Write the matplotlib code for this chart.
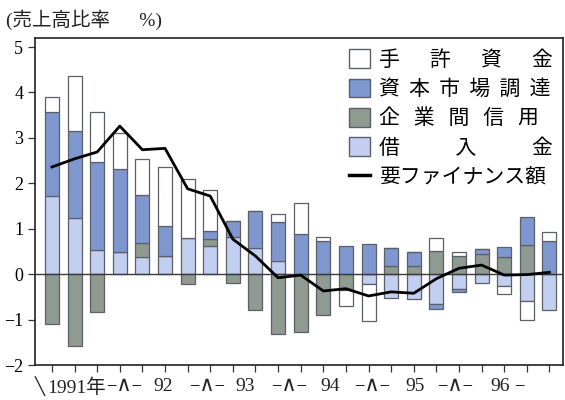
import numpy as np
import matplotlib.pyplot as plt
from matplotlib.patches import Patch
from matplotlib.lines import Line2D
from matplotlib.transforms import blended_transform_factory

JP = ['Noto Sans CJK JP', 'DejaVu Sans']
SERIF = ['Liberation Serif', 'DejaVu Serif', 'Noto Sans CJK JP']
SEP_FONT = ['DejaVu Serif']

# 1991 Q1 .. 1996 Q3 (quarterly), % of sales
own_funds = [0.35, 1.20, 1.12, 0.79, 0.79, 1.30, 1.29, 0.89, 0.00, 0.00, 0.18, 0.67,
             0.08, -0.34, -0.81, 0.00, 0.00, 0.29, 0.09, 0.00, -0.17, -0.41, 0.18]
capital_market = [1.84, 1.92, 1.93, 1.83, 1.05, 0.65, 0.00, 0.18, 0.35, 0.82, 0.86, 0.89,
                  0.73, 0.61, 0.66, 0.40, 0.32, -0.10, -0.06, 0.11, 0.22, 0.60, 0.74]
trade_credit = [-1.09, -1.59, -0.84, 0.00, 0.31, 0.00, -0.22, 0.17, -0.20, -0.80, -1.32, -1.28,
                -0.91, -0.35, 0.00, 0.17, 0.17, 0.51, 0.40, 0.45, 0.38, 0.65, 0.00]
borrowing = [1.72, 1.24, 0.53, 0.48, 0.38, 0.41, 0.80, 0.61, 0.81, 0.57, 0.29, 0.00,
             0.00, 0.00, -0.22, -0.52, -0.55, -0.66, -0.33, -0.19, -0.26, -0.59, -0.78]
financing_need = [2.36, 2.54, 2.69, 3.26, 2.74, 2.77, 1.88, 1.72, 0.77, 0.40, -0.08, -0.02,
                  -0.37, -0.32, -0.48, -0.39, -0.42, -0.10, 0.13, 0.20, -0.02, -0.01, 0.04]

series_labels = ['手　  許　  資　  金', '資  本  市  場  調  達', '企   業   間   信   用', '借　　   入　　   金']
line_label = '要ファイナンス額'

year_labels = ['1991年', '92', '93', '94', '95', '96']
year_label_pos = [1.1, 4.9, 8.55, 12.3, 16.06, 19.8]
sep_pos = [3.2, 6.85, 10.5, 14.15, 17.85]
end_dash_pos = 20.65

colors = {'own': '#ffffff', 'cap': '#7f97cf', 'trade': '#8f9a90', 'borrow': '#c3cff0'}
edge = '#5a5f68'

fig = plt.figure(figsize=(5.65, 4.0), dpi=100)
ax = fig.add_axes([35 / 565, 35 / 400, 528 / 565, 327 / 400])

x = np.arange(len(own_funds))
width = 0.62
pos_base = np.zeros(len(x))
neg_base = np.zeros(len(x))
stack = [(borrowing, colors['borrow']), (trade_credit, colors['trade']),
         (capital_market, colors['cap']), (own_funds, colors['own'])]
for vals, col in stack:
    v = np.array(vals)
    bottom = np.where(v >= 0, pos_base, neg_base)
    ax.bar(x, v, width, bottom=bottom, color=col, edgecolor=edge, linewidth=0.9, zorder=2)
    pos_base += np.where(v > 0, v, 0)
    neg_base += np.where(v < 0, v, 0)

ax.axhline(0, color='#3a3a3a', linewidth=1.0, zorder=3)
ax.plot(x, financing_need, color='black', linewidth=2.0, zorder=4)

ax.set_xlim(-0.75, 22.6)
ax.set_ylim(-2, 5.2)
ax.set_yticks(range(-2, 6))
ax.set_xticks(x)
ax.set_xticklabels([])
ax.tick_params(axis='both', direction='out', length=5, width=0.9, color='#333333')
for lab in ax.get_yticklabels():
    lab.set_family(SERIF)
    lab.set_fontsize(13)
for sp in ax.spines.values():
    sp.set_linewidth(1.2)
    sp.set_color('#222222')

# legend
leg_handles = [Patch(facecolor=colors['own'], edgecolor=edge),
               Patch(facecolor=colors['cap'], edgecolor=edge),
               Patch(facecolor=colors['trade'], edgecolor=edge),
               Patch(facecolor=colors['borrow'], edgecolor=edge),
               Line2D([], [], color='black', linewidth=2.5)]
ax.legend(leg_handles, series_labels + [line_label], loc='upper right',
          bbox_to_anchor=(1.005, 1.005), frameon=False, prop={'family': JP, 'size': 15},
          handlelength=1.0, handleheight=1.0, handletextpad=0.45, labelspacing=0.35,
          borderaxespad=0.2)

# x-axis year labels
trans = blended_transform_factory(ax.transData, ax.transAxes)
ax.text(-0.78, -0.035, '╲', transform=trans, ha='left', va='top', family=['DejaVu Sans'], fontsize=12, color='#222222')
for p, lab in zip(year_label_pos, year_labels):
    ax.text(p, -0.04, lab, transform=trans, ha='center', va='top', family=SERIF, fontsize=14, color='#222222')
for p in sep_pos:
    ax.text(p, -0.035, '–∧–', transform=trans, ha='center', va='top', family=SEP_FONT, fontsize=15, color='#222222')
ax.text(end_dash_pos, -0.035, '–', transform=trans, ha='center', va='top', family=SEP_FONT, fontsize=15, color='#222222')

fig.text(0.01, 0.975, '(売上高比率　  %)', ha='left', va='top', family=SERIF, fontsize=14, color='#222222')

plt.savefig('out.png', dpi=100)
plt.close()
